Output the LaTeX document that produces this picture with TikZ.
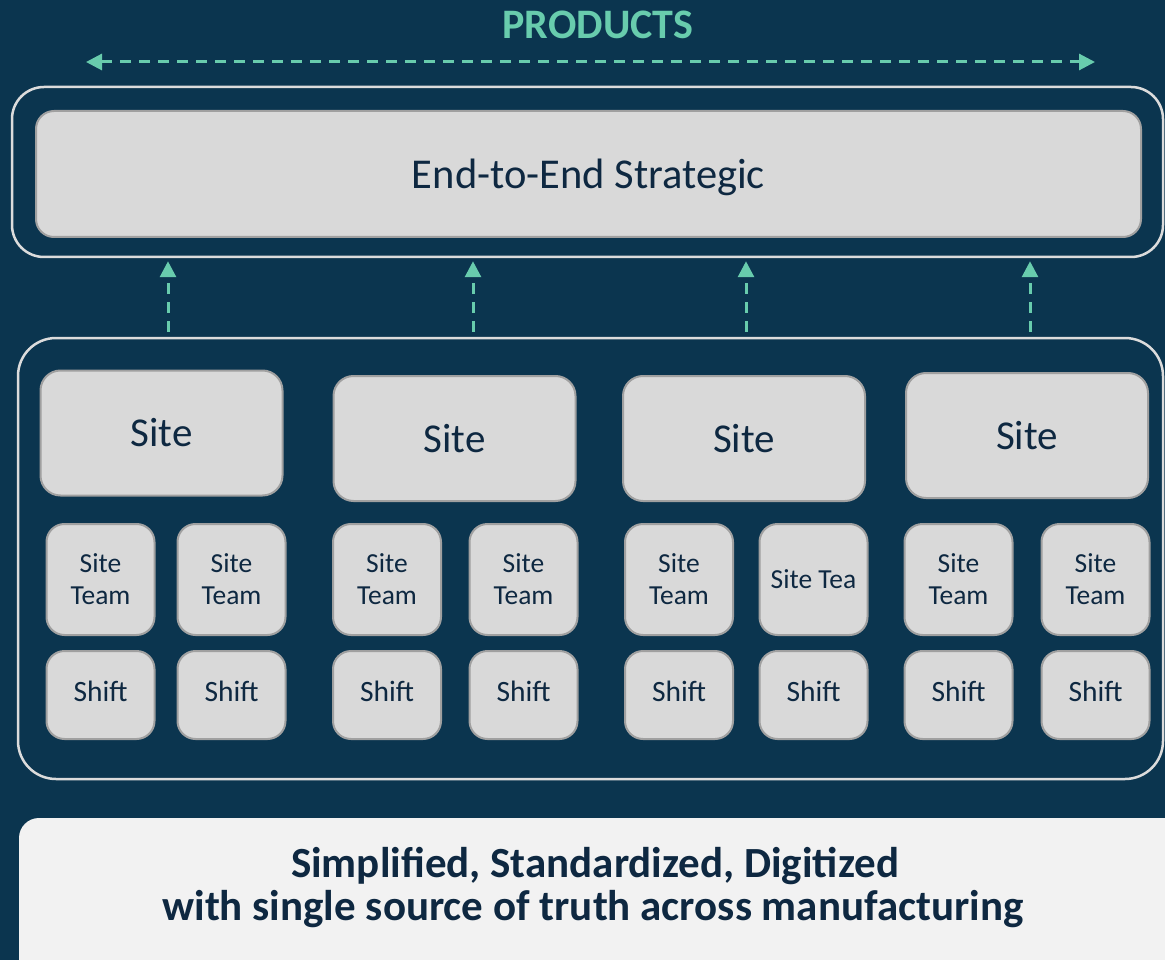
\documentclass[tikz,border=0pt]{standalone}
\usepackage{fontspec}
\setmainfont{Carlito}
\usetikzlibrary{arrows.meta}

\definecolor{bgnavy}{HTML}{0B354F}
\definecolor{teal}{HTML}{68CCAD}
\definecolor{ink}{HTML}{0E2841}
\definecolor{boxfill}{HTML}{D9D9D9}
\definecolor{boxline}{HTML}{A0A0A0}
\definecolor{frameline}{HTML}{DCDCDC}
\definecolor{notefill}{HTML}{F2F2F2}

\tikzset{
  frame/.style={draw=frameline, line width=2.5pt, rounded corners=32pt, inner sep=0pt},
  tile/.style={draw=boxline, fill=boxfill, line width=2pt, text=ink, align=center, inner sep=0pt},
  sitebox/.style={tile, rounded corners=20pt, minimum width=242pt, minimum height=125pt,
    font=\fontsize{41}{49}\selectfont},
  teambox/.style={tile, rounded corners=18pt, minimum width=108pt, minimum height=111pt,
    font=\fontsize{27.5}{32}\selectfont},
  shiftbox/.style={tile, rounded corners=18pt, minimum width=108pt, minimum height=88pt,
    text depth=7pt, font=\fontsize{29.5}{35}\selectfont},
  banner/.style={text=ink, anchor=base, font=\bfseries\fontsize{43}{44}\selectfont},
  flow/.style={draw=teal, line width=3pt, dash pattern=on 11pt off 8pt,
    -{Triangle[length=16pt,width=16pt]}},
  flowboth/.style={draw=teal, line width=3pt, dash pattern=on 11pt off 8pt,
    {Triangle[length=16pt,width=16pt]}-{Triangle[length=16pt,width=16pt]}},
}

\begin{document}
\begin{tikzpicture}[x=1pt, y=-1pt]
\useasboundingbox (0,0) rectangle (1165,960);
\fill[bgnavy] (0,0) rectangle (1165,960);
\clip (0,0) rectangle (1165,960);

% heading and product span
\node[text=teal, font=\bfseries\fontsize{42}{50}\selectfont] (products) at (598,25) {PRODUCTS};
\coordinate (spanL) at (86,62);
\coordinate (spanR) at (1095,62);
\draw[flowboth] (spanL) -- (spanR);

% strategic layer
\node[frame, minimum width=1151pt, minimum height=170pt] (topframe) at (587.5,172) {};
\node[tile, rounded corners=18pt, minimum width=1105pt, minimum height=126pt, text depth=0pt,
      font=\fontsize{42.5}{50}\selectfont] (e2e) at (588.5,174) {End-to-End Strategic};

% site layer frame
\node[frame, rounded corners=38pt, minimum width=1145pt, minimum height=441pt] (siteframe) at (590.5,558.5) {};

% sites
\node[sitebox] (site1) at (161.5,433) {Site};
\node[sitebox] (site2) at (454.5,438.5) {Site};
\node[sitebox] (site3) at (744,438.5) {Site};
\node[sitebox] (site4) at (1027,435.5) {Site};

% site teams
\node[teambox] (team1a) at (100.5,579.5) {Site\\Team};
\node[teambox] (team1b) at (231.5,579.5) {Site\\Team};
\node[teambox] (team2a) at (387,579.5) {Site\\Team};
\node[teambox] (team2b) at (523.5,579.5) {Site\\Team};
\node[teambox] (team3a) at (679,579.5) {Site\\Team};
\node[teambox] (team3b) at (813.5,579.5) {Site Tea};
\node[teambox] (team4a) at (958.5,579.5) {Site\\Team};
\node[teambox] (team4b) at (1095.5,579.5) {Site\\Team};

% shifts
\node[shiftbox] (shift1a) at (100.5,695) {Shift};
\node[shiftbox] (shift1b) at (231.5,695) {Shift};
\node[shiftbox] (shift2a) at (387,695) {Shift};
\node[shiftbox] (shift2b) at (523.5,695) {Shift};
\node[shiftbox] (shift3a) at (679,695) {Shift};
\node[shiftbox] (shift3b) at (813.5,695) {Shift};
\node[shiftbox] (shift4a) at (958.5,695) {Shift};
\node[shiftbox] (shift4b) at (1095.5,695) {Shift};

% upward links from the site layer to the strategic layer
\foreach \xx/\nm in {168/a, 473/b, 746/c, 1030/d} {
  \coordinate (up\nm) at (\xx,300);
  \draw[flow, shorten <=5pt, shorten >=3pt] (siteframe.north -| up\nm) -- (topframe.south -| up\nm);
}

% summary banner
\fill[notefill, rounded corners=20pt] (19,818) rectangle (1190,1000);
\node[banner] (summary1) at (595,877) {Simplified, Standardized, Digitized};
\node[banner] (summary2) at (593,920) {with single source of truth across manufacturing};
\end{tikzpicture}
\end{document}
